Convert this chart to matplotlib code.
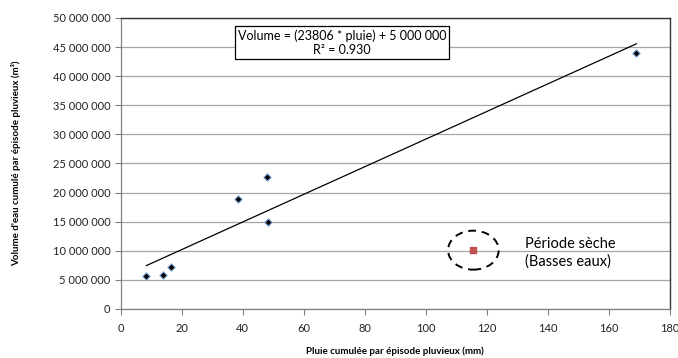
import numpy as np
import matplotlib
matplotlib.use('Agg')
import matplotlib.pyplot as plt
from matplotlib.patches import Ellipse
from matplotlib.ticker import FuncFormatter

plt.rcParams['font.family'] = ['Lato', 'DejaVu Sans']

# episodes pluvieux (mm) / volume cumule (m3)
pluie = [8.4, 13.9, 16.4, 38.5, 47.8, 48.2, 169.0]
volume = [5.7e6, 5.8e6, 7.25e6, 18.95e6, 22.7e6, 15.0e6, 43.95e6]
# periode seche
pluie_sec = [115.6]
volume_sec = [10.1e6]

equation = 'Volume = (23806 * pluie) + 5 000 000\nR² = 0.930'
xticks = list(range(0, 181, 20))
yticks = list(range(0, 50000001, 5000000))

fig = plt.figure(figsize=(6.78, 3.58), dpi=100)
ax = fig.add_axes([0.178, 0.137, 0.81, 0.813])

# trend line
a, b = np.polyfit(pluie, volume, 1)
xl = np.array([min(pluie), max(pluie)])
ax.plot(xl, a * xl + b, color='black', lw=0.9, zorder=3)

ax.scatter(pluie, volume, marker='D', s=14, c='black', edgecolors='#7ea6d8',
           linewidths=0.8, zorder=4)
ax.scatter(pluie_sec, volume_sec, marker='s', s=22, c='#c0504d', zorder=4)

ell = Ellipse((pluie_sec[0], volume_sec[0]), 16.6, 6.7e6, fill=False,
              ls=(0, (4, 3)), lw=1.4, color='black', zorder=3)
ax.add_patch(ell)
ax.text(132.4, 9.7e6, 'Période sèche\n(Basses eaux)', fontsize=10.5,
        va='center', ha='left', linespacing=1.3)

ax.text(72.5, 45.8e6, equation, fontsize=9, ha='center', va='center',
        linespacing=1.2,
        bbox=dict(boxstyle='square,pad=0.25', fc='white', ec='black', lw=0.9))

ax.set_xlim(0, 180)
ax.set_ylim(0, 50000000)
ax.set_xticks(xticks)
ax.set_yticks(yticks)
ax.yaxis.set_major_formatter(FuncFormatter(lambda v, p: '{:,}'.format(int(v)).replace(',', ' ')))
ax.grid(axis='y', color='#a6a6a6', lw=0.9)
ax.set_axisbelow(True)
ax.tick_params(axis='both', labelsize=8, color='#808080', length=4, width=0.8,
               labelcolor='#222222')
ax.tick_params(axis='x', pad=6)
for s in ['left', 'bottom']:
    ax.spines[s].set_color('#808080')
    ax.spines[s].set_linewidth(0.9)
for s in ['top', 'right']:
    ax.spines[s].set_color('#333333')
    ax.spines[s].set_linewidth(1.0)

ax.set_xlabel('Pluie cumulée par épisode pluvieux (mm)', fontsize=7, fontweight='bold',
              labelpad=9)
ax.set_ylabel("Volume d'eau cumulé par épisode pluvieux (m³)", fontsize=7,
              fontweight='bold', labelpad=23)

fig.savefig('out.png', dpi=100)
